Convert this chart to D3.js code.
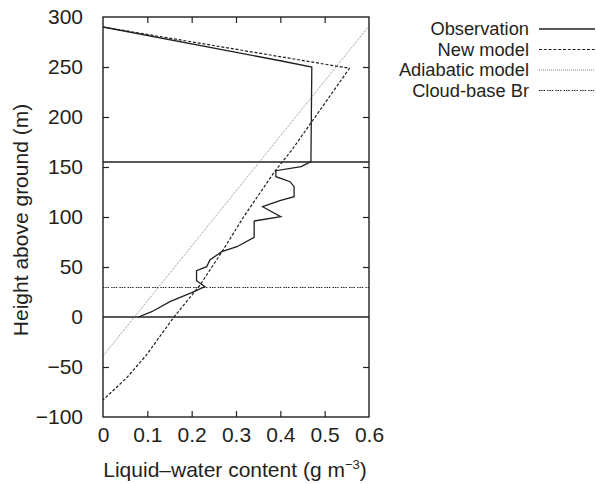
<!DOCTYPE html>
<html>
<head>
<meta charset="utf-8">
<script src="https://cdn.jsdelivr.net/npm/d3@7"></script>
<style>
  body { margin: 0; background: #fff; }
  text { font-family: "Liberation Sans", Arial, sans-serif; fill: #231f20; }
</style>
</head>
<body>
<div id="chart"></div>
<script>
// observation profile (g m-3, m)
var obsLwc = [0, 0.403, 0.471, 0.469, 0.447, 0.390, 0.390, 0.422, 0.431, 0.431, 0.399, 0.360, 0.401,
    0.341, 0.341, 0.302, 0.268, 0.241, 0.234, 0.211, 0.211, 0.230, 0.200, 0.151, 0.110, 0.080];
var obsHeight = [290, 256, 250, 155.3, 150.3, 146.3, 140.3, 135.3, 130.3, 120.3, 116.3, 110.3, 100.3,
    96, 79.7, 70.3, 65.3, 57, 50.3, 46.3, 36.3, 30.3, 24.3, 15.3, 5.3, 0];

var newLwc = [0, 0.556, 0.426, 0.388, 0.317, 0.268, 0.219, 0.160, 0.098, 0.053, 0];
var newHeight = [290, 248.7, 167, 146, 100, 65, 32, 0, -38, -61, -83];

var adiLwc = [0, 0.6];
var adiHeight = [-39, 291];

var cloudTop = 155;
var ground = 0;
var cloudBaseBr = 29.5;

var xTicks = [0, 0.1, 0.2, 0.3, 0.4, 0.5, 0.6];
var yTicks = [-100, -50, 0, 50, 100, 150, 200, 250, 300];

var legendNames = ["Observation", "New model", "Adiabatic model", "Cloud-base Br"];

var width = 596, height = 484;
var svg = d3.select("#chart").append("svg")
    .attr("width", width)
    .attr("height", height);

var x = d3.scaleLinear().domain([0, 0.6]).range([103, 369]);
var y = d3.scaleLinear().domain([-100, 300]).range([417, 17]);

var ink = "#231f20";
var fs = 21;

function pts(xs, ys) {
    return xs.map((v, i) => [v, ys[i]]);
}
var line = d3.line().x(d => x(d[0])).y(d => y(d[1]));

var styles = [
    { dash: null, w: 1.3, color: ink },
    { dash: "3,1.8", w: 1.2, color: ink },
    { dash: "1,1", w: 0.7, color: "#555" },
    { dash: "1.4,0.9,1.4,0.9,1.4,2.2", w: 1.2, color: ink }
];

var plot = svg.append("g");

// horizontal reference lines
[cloudTop, ground].forEach(h => {
    plot.append("line")
        .attr("x1", x(0)).attr("x2", x(0.6))
        .attr("y1", y(h)).attr("y2", y(h))
        .attr("stroke", ink).attr("stroke-width", 1.3);
});
plot.append("line")
    .attr("x1", x(0)).attr("x2", x(0.6))
    .attr("y1", y(cloudBaseBr)).attr("y2", y(cloudBaseBr))
    .attr("stroke", styles[3].color).attr("stroke-width", styles[3].w)
    .attr("stroke-dasharray", styles[3].dash);

var series = [pts(obsLwc, obsHeight), pts(newLwc, newHeight), pts(adiLwc, adiHeight)];
series.forEach((s, i) => {
    plot.append("path")
        .attr("d", line(s))
        .attr("fill", "none")
        .attr("stroke", styles[i].color)
        .attr("stroke-width", styles[i].w)
        .attr("stroke-dasharray", styles[i].dash)
        .attr("stroke-linejoin", "miter");
});

// axes, ticks inward on all sides
var tl = 6;
svg.append("g").attr("transform", "translate(0," + y(-100) + ")")
    .call(d3.axisBottom(x).tickValues(xTicks).tickSize(-tl).tickPadding(10).tickFormat(d => d === 0 ? "0" : d3.format(".1f")(d)))
    .call(g => g.select(".domain").remove());
svg.append("g").attr("transform", "translate(0," + y(300) + ")")
    .call(d3.axisTop(x).tickValues(xTicks).tickSize(-tl).tickFormat(""))
    .call(g => g.select(".domain").remove());
svg.append("g").attr("transform", "translate(" + x(0) + ",0)")
    .call(d3.axisLeft(y).tickValues(yTicks).tickSize(-tl).tickPadding(20).tickFormat(d => d < 0 ? "\u2212" + Math.abs(d) : d))
    .call(g => g.select(".domain").remove());
svg.append("g").attr("transform", "translate(" + x(0.6) + ",0)")
    .call(d3.axisRight(y).tickValues(yTicks).tickSize(-tl).tickFormat(""))
    .call(g => g.select(".domain").remove());

svg.selectAll(".tick line").attr("stroke", ink).attr("stroke-width", 1.2);
svg.selectAll(".tick text").attr("font-size", fs).attr("font-family", null).style("fill", ink);
// hide ticks at the corners
svg.selectAll(".tick").filter(d => d === 0 || d === 0.6 || d === -100 || d === 300).select("line").remove();

svg.append("rect")
    .attr("x", x(0)).attr("y", y(300))
    .attr("width", x(0.6) - x(0)).attr("height", y(-100) - y(300))
    .attr("fill", "none").attr("stroke", ink).attr("stroke-width", 1.4);

// axis labels
svg.append("text")
    .attr("transform", "translate(28," + 220 + ") rotate(-90)")
    .attr("text-anchor", "middle")
    .attr("font-size", fs)
    .text("Height above ground (m)");

var xl = svg.append("text")
    .attr("x", 235).attr("y", 477)
    .attr("text-anchor", "middle")
    .attr("font-size", fs);
xl.append("tspan").text("Liquid\u2013water content (g m");
xl.append("tspan").attr("dy", -8).attr("font-size", 13).text("\u22123");
xl.append("tspan").attr("dy", 8).text(")");

// legend (slightly smaller type so rows do not collide)
var lfs = 18.3;
var legend = svg.append("g");
legendNames.forEach((name, i) => {
    var ly = 29 + i * 20.5;
    legend.append("text")
        .attr("x", 529).attr("y", ly + 6.3)
        .attr("text-anchor", "end")
        .attr("font-size", lfs)
        .text(name);
    legend.append("line")
        .attr("x1", 539).attr("x2", 595)
        .attr("y1", ly).attr("y2", ly)
        .attr("stroke", styles[i].color)
        .attr("stroke-width", styles[i].w)
        .attr("stroke-dasharray", styles[i].dash);
});
</script>
</body>
</html>
